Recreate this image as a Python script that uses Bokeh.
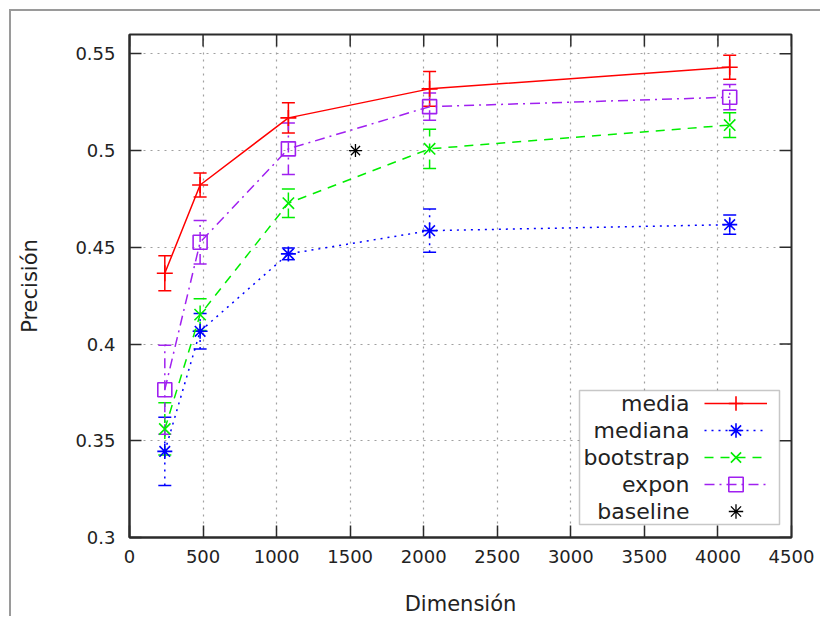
from bokeh.plotting import figure
from bokeh.models import (ColumnDataSource, Whisker, TeeHead, Legend, LegendItem, Label,
                          BoxAnnotation, FixedTicker, NumeralTickFormatter, Range1d)
from bokeh.embed import file_html
from bokeh.resources import INLINE

# Dimension of the representation (x axis)
dims = [240, 480, 1080, 2040, 4080]

# Mean precision and error per method
media = [0.4366, 0.4822, 0.5169, 0.5319, 0.5431]
media_err = [0.0091, 0.0062, 0.0078, 0.0090, 0.0062]
mediana = [0.3445, 0.4066, 0.4466, 0.4586, 0.4617]
mediana_err = [0.0176, 0.0092, 0.0030, 0.0112, 0.0050]
bootstrap = [0.3561, 0.4152, 0.4728, 0.5009, 0.5132]
bootstrap_err = [0.0135, 0.0082, 0.0074, 0.0101, 0.0064]
expon = [0.3764, 0.4526, 0.5009, 0.5227, 0.5276]
expon_err = [0.0230, 0.0112, 0.0133, 0.0070, 0.0065]

baseline_dim = [1536]
baseline = [0.5]

names = ["media", "mediana", "bootstrap", "expon", "baseline"]
x_ticks = [0, 500, 1000, 1500, 2000, 2500, 3000, 3500, 4000, 4500]
y_ticks = [0.3, 0.35, 0.4, 0.45, 0.5, 0.55]
X_MIN, X_MAX = 0, 4500
Y_MIN, Y_MAX = 0.3, 0.56

FONT = "DejaVu Sans"
INK = "#2b2b2b"
W, H = 811, 607
BORDER = dict(left=118, right=31, top=23, bottom=81)
TICK = 12  # inward tick length in pixels

p = figure(width=W, height=H, output_backend="svg", toolbar_location=None,
           x_range=Range1d(X_MIN, X_MAX), y_range=Range1d(Y_MIN, Y_MAX),
           x_axis_label="Dimensión", y_axis_label="Precisión",
           min_border_left=BORDER["left"], min_border_right=BORDER["right"],
           min_border_top=BORDER["top"], min_border_bottom=BORDER["bottom"])
p.styles = {"margin-left": "9px", "margin-top": "9px",
            "border-left": "2px solid #9a9a9a", "border-top": "2px solid #9a9a9a"}
p.background_fill_color = "white"
p.border_fill_color = "white"
p.outline_line_color = INK
p.outline_line_width = 2

xax = p.below[0]
yax = p.left[0]
for ax, ticks in ((xax, x_ticks), (yax, y_ticks)):
    ax.ticker = FixedTicker(ticks=ticks)
    ax.major_tick_in = TICK
    ax.major_tick_out = 0
    ax.minor_tick_in = 0
    ax.minor_tick_out = 0
    ax.major_tick_line_color = INK
    ax.major_tick_line_width = 1.5
    ax.axis_line_color = INK
    ax.axis_line_width = 2
    ax.major_label_text_font = FONT
    ax.major_label_text_font_size = "18px"
    ax.major_label_text_color = "#222222"
    ax.axis_label_text_font = FONT
    ax.axis_label_text_font_size = "21px"
    ax.axis_label_text_font_style = "normal"
    ax.axis_label_text_color = "#222222"
yax.formatter = NumeralTickFormatter(format="0.[00]")
xax.major_label_standoff = 12
xax.axis_label_standoff = 26
yax.major_label_standoff = 14
yax.axis_label_standoff = 30

for g in (p.xgrid[0], p.ygrid[0]):
    g.grid_line_color = "#a0a0a0"
    g.grid_line_dash = "2 5"
    g.grid_line_width = 1.2
p.xgrid[0].ticker = FixedTicker(ticks=x_ticks)
p.ygrid[0].ticker = FixedTicker(ticks=y_ticks)

# mirrored inward ticks along the top and right edges of the frame
frame_w = W - BORDER["left"] - BORDER["right"]
frame_h = H - BORDER["top"] - BORDER["bottom"]
ty = TICK * (Y_MAX - Y_MIN) / frame_h
tx = TICK * (X_MAX - X_MIN) / frame_w
top_src = ColumnDataSource(dict(base=x_ticks, lower=[Y_MAX - ty] * len(x_ticks),
                                upper=[Y_MAX] * len(x_ticks)))
right_src = ColumnDataSource(dict(base=y_ticks, lower=[X_MAX - tx] * len(y_ticks),
                                  upper=[X_MAX] * len(y_ticks)))
p.add_layout(Whisker(source=top_src, base="base", lower="lower", upper="upper",
                     dimension="height", line_color=INK, line_width=1.5,
                     upper_head=None, lower_head=None))
p.add_layout(Whisker(source=right_src, base="base", lower="lower", upper="upper",
                     dimension="width", line_color=INK, line_width=1.5,
                     upper_head=None, lower_head=None))

series = [
    (media, media_err, "#ff0000", "solid", "cross", 16),
    (mediana, mediana_err, "#0000ff", "2 5", "asterisk", 15),
    (bootstrap, bootstrap_err, "#00ee00", "9 7", "x", 16),
    (expon, expon_err, "#a020f0", "10 5 2 5", "square", 14),
]

samples = []
for ys, errs, color, dash, marker, size in series:
    src = ColumnDataSource(dict(
        x=dims, y=ys,
        lower=[v - e for v, e in zip(ys, errs)],
        upper=[v + e for v, e in zip(ys, errs)],
    ))
    p.add_layout(Whisker(source=src, base="x", lower="lower", upper="upper", dimension="height",
                         line_color=color, line_width=1.5, line_dash=dash,
                         upper_head=TeeHead(size=13, line_color=color, line_width=1.5),
                         lower_head=TeeHead(size=13, line_color=color, line_width=1.5)))
    lr = p.line("x", "y", source=src, line_color=color, line_width=1.5, line_dash=dash)
    sr = p.scatter("x", "y", source=src, marker=marker, size=size, line_color=color,
                   line_width=1.6, fill_color=None)
    samples.append([lr, sr])

base_src = ColumnDataSource(dict(x=baseline_dim, y=baseline))
br = p.scatter("x", "y", source=base_src, marker="asterisk", size=13, line_color="black",
               line_width=1.3)
samples.append([br])

# key: white box, one single-row legend per sample, names right-aligned to their left
p.add_layout(BoxAnnotation(left=450, right=650, bottom=13, top=147,
                           left_units="screen", right_units="screen",
                           bottom_units="screen", top_units="screen",
                           fill_color="white", fill_alpha=1.0,
                           line_color="#444444", line_width=1.5))
ROW_H, ROW_PITCH, SAMPLE_W = 36, 27, 63
for i, (name, rends) in enumerate(zip(names, samples)):
    row_center = 134 - ROW_PITCH * i
    p.add_layout(Legend(items=[LegendItem(label=" ", renderers=rends)],
                        location=(575, row_center - ROW_H // 2),
                        glyph_width=SAMPLE_W, glyph_height=ROW_H, spacing=0, padding=0, margin=0,
                        label_standoff=0, label_text_font_size="1px",
                        label_height=0, label_width=0,
                        background_fill_alpha=0, border_line_alpha=0), "center")
    p.add_layout(Label(x=560, y=row_center, x_units="screen", y_units="screen", text=name,
                       text_align="right", text_baseline="middle", text_font=FONT,
                       text_font_size="22px", text_color="#222222"))

open("out.html", "w").write(file_html(p, INLINE))
